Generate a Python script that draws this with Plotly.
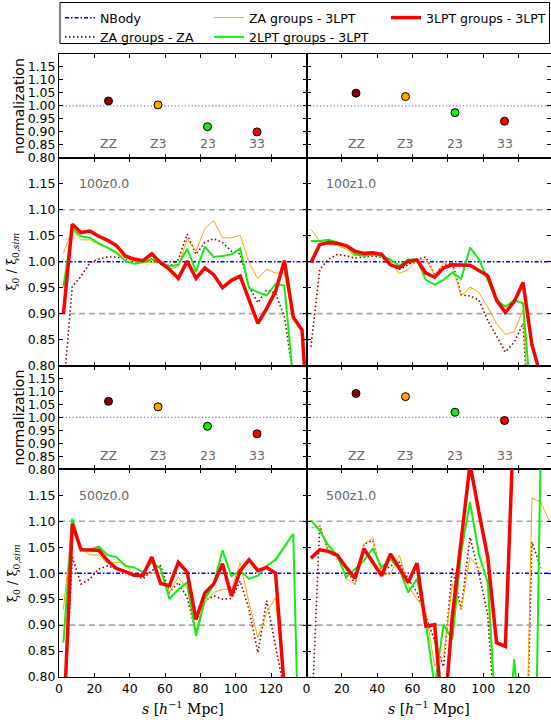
import plotly.graph_objects as go
from plotly.subplots import make_subplots

# ---------------- data ----------------
S = [2.5, 7.5, 12.5, 17.5, 22.5, 27.5, 32.5, 37.5, 42.5, 47.5, 52.5, 57.5, 62.5, 67.5,
     72.5, 77.5, 82.5, 87.5, 92.5, 97.5, 102.5, 107.5, 112.5, 117.5, 122.5, 127.5,
     132.5, 137.5, 142.5]

NBODY_S = [0.0, 140.0]
NBODY_RATIO = [1.0, 1.0]

# 100z0.0
ZAZA_100Z0 = [0.75, 0.952, 0.972, 0.998, 1.005, 1.009, 1.009, 1.006, 1.003, 0.999, 1.004, 0.996, 0.990, 1.004,
              1.053, 1.014, 1.037, 1.044, 1.037, 1.020, 1.015, 0.952, 0.921, 0.946, 0.939, 0.894, 0.78, 0.6, None]
ZA3_100Z0 = [1.016, 1.062, 1.042, 1.042, 1.033, 1.027, 1.020, 1.007, 1.001, 0.998, 0.998, 1.001, 0.986, 0.990,
             1.044, 1.020, 1.064, 1.079, 1.046, 1.046, 1.051, 0.998, 0.967, 0.986, 0.978, 0.978, 0.89, 0.87, 0.6]
L23_100Z0 = [0.952, 1.064, 1.049, 1.046, 1.035, 1.027, 1.017, 1.002, 0.996, 0.999, 1.005, 0.999, 0.991, 0.994,
             1.025, 0.981, 1.029, 1.009, 1.011, 1.014, 1.025, 0.949, 0.941, 0.935, 0.957, 0.954, 0.77, 0.5, None]
L33_100Z0 = [0.899, 1.072, 1.056, 1.059, 1.049, 1.041, 1.031, 1.011, 1.005, 1.002, 1.015, 0.998, 0.985, 0.968,
             1.001, 0.968, 0.988, 0.975, 0.950, 0.964, 0.972, 0.926, 0.881, 0.910, 0.943, 1.002, 0.893, 0.868, 0.6]

# 100z1.0
ZAZA_100Z1 = [0.836, 0.985, 1.005, 1.014, 1.011, 1.007, 1.009, 1.011, 1.009, 0.992, 0.985, 0.994, 1.005, 1.009,
              0.975, 0.992, 0.998, 0.936, 0.934, 0.926, 0.887, 0.855, 0.826, 0.845, 0.881, 0.6, None, None, None]
ZA3_100Z1 = [1.062, 1.040, 1.033, 1.031, 1.024, 1.011, 1.014, 1.017, 1.011, 1.001, 0.977, 0.985, 1.004, 1.004,
             0.975, 0.998, 0.991, 0.934, 0.951, 0.941, 0.913, 0.881, 0.860, 0.865, 0.907, 0.6, None, None, None]
L23_100Z1 = [1.040, 1.040, 1.042, 1.037, 1.029, 1.014, 1.011, 1.014, 1.011, 1.004, 0.992, 1.004, 1.004, 0.965,
             0.956, 0.965, 0.979, 0.967, 1.027, 1.005, 0.965, 0.926, 0.913, 0.926, 0.920, 0.71, 0.5, None, None]
L33_100Z1 = [0.998, 1.033, 1.037, 1.035, 1.031, 1.020, 1.016, 1.017, 1.014, 0.994, 0.988, 1.001, 1.003, 0.978,
             0.970, 0.988, 0.994, 0.993, 0.993, 0.983, 0.973, 0.926, 0.902, 0.923, 0.960, 0.84, 0.78, 0.6, None]

# 500z0.0
ZAZA_500Z0 = [0.70, 1.031, 0.979, 0.989, 1.008, 1.014, 1.008, 1.002, 0.998, 0.989, 1.005, 1.014, 0.963, 0.982,
              0.953, 0.885, 0.947, 0.956, 0.950, 0.951, 0.985, 0.930, 0.847, 0.947, 0.859, 0.773, 0.6, None, None]
ZA3_500Z0 = [0.930, 1.095, 1.047, 1.035, 1.035, 1.018, 1.021, 1.018, 0.996, 0.995, 1.000, 1.000, 0.963, 0.992,
             0.971, 0.889, 0.943, 0.963, 0.969, 0.969, 1.020, 0.943, 0.876, 0.924, 0.953, 0.77, 0.6, None, None]
L23_500Z0 = [0.866, 1.105, 1.047, 1.045, 1.051, 1.035, 1.031, 1.014, 1.011, 1.002, 1.021, 1.009, 0.950, 0.969,
             0.982, 0.879, 0.950, 0.979, 1.044, 0.994, 1.005, 0.989, 0.995, 1.014, 1.026, 1.052, 1.076, 0.4, None]
L33_500Z0 = [0.70, 1.095, 1.045, 1.045, 1.044, 1.024, 1.009, 1.003, 0.996, 0.996, 1.031, 0.980, 0.976, 1.021,
             1.002, 0.911, 0.962, 0.979, 1.018, 0.956, 1.005, 1.026, 1.005, 1.011, 1.000, 0.775, 0.6, None, None]

# 500z1.0
ZAZA_500Z1 = [0.69, 1.092, 1.040, 1.037, 1.008, 0.979, 1.056, 1.063, 1.002, 1.014, 1.021, 0.989, 0.963, 0.918,
              0.870, 0.820, 1.011, 0.930, 1.069, 1.000, 0.920, 0.67, 0.5, 0.45, 0.376, 1.060, 1.011, None, None]
ZA3_500Z1 = [1.087, 1.091, 1.040, 1.031, 0.989, 0.979, 1.056, 1.068, 0.998, 0.998, 1.035, 0.976, 0.950, 0.924,
             0.821, 0.840, 0.979, 0.930, 1.031, 1.009, 1.026, 0.673, 0.5, 0.4, 0.36, 1.145, 1.137, 1.10, None]
L23_500Z1 = [1.102, 1.082, 1.053, 1.034, 0.992, 1.008, 1.024, 1.047, 1.011, 1.027, 1.008, 0.963, 0.989, 0.905,
             0.78, 0.901, 0.872, 1.040, 1.137, 1.037, 0.982, 0.698, 0.63, 0.834, 0.63, 0.2, 1.25, 1.5, None]
L33_500Z1 = [1.029, 1.045, 1.042, 1.034, 1.011, 0.990, 1.047, 1.021, 0.995, 1.037, 1.008, 0.982, 1.019, 0.898,
             0.901, 0.70, 0.917, 1.057, 1.21, 1.118, 1.031, 0.866, 0.859, 1.32, 1.45, None, None, None, None]

# normalizations (ZZ, Z3, 23, 33)
NORM_POS = [28, 56, 84, 112]
NORM_LABELS = ["ZZ", "Z3", "23", "33"]
NORM_100Z0 = [1.019, 1.004, 0.920, 0.900]
NORM_100Z1 = [1.049, 1.036, 0.974, 0.941]
NORM_500Z0 = [1.062, 1.041, 0.966, 0.937]
NORM_500Z1 = [1.092, 1.080, 1.020, 0.988]

PANEL_NAMES = ["100z0.0", "100z1.0", "500z0.0", "500z1.0"]
YTICKS = [0.80, 0.85, 0.90, 0.95, 1.00, 1.05, 1.10, 1.15]
XTICKS = [0, 20, 40, 60, 80, 100, 120]

# ---------------- styling ----------------
C_ZAZA = "#8b0000"
C_ZA3 = "#ffa500"
C_23 = "#11ee11"
C_33 = "#ff0000"
C_NB = "#0000ff"
NORM_COLORS = [C_ZAZA, C_ZA3, C_23, C_33]
FONT = "DejaVu Sans"

W, H = 551, 720
ML, MR, MT, MB = 59, 0, 54, 43
PW = W - ML - MR
PH = H - MT - MB

fig = make_subplots(rows=4, cols=2, row_heights=[1, 2, 1, 2],
                    horizontal_spacing=0, vertical_spacing=0)

main_sets = {
    (2, 1): (ZAZA_100Z0, ZA3_100Z0, L23_100Z0, L33_100Z0),
    (2, 2): (ZAZA_100Z1, ZA3_100Z1, L23_100Z1, L33_100Z1),
    (4, 1): (ZAZA_500Z0, ZA3_500Z0, L23_500Z0, L33_500Z0),
    (4, 2): (ZAZA_500Z1, ZA3_500Z1, L23_500Z1, L33_500Z1),
}
norm_sets = {(1, 1): NORM_100Z0, (1, 2): NORM_100Z1, (3, 1): NORM_500Z0, (3, 2): NORM_500Z1}

first = True
for (r, c), (zaza, za3, l23, l33) in main_sets.items():
    fig.add_trace(go.Scatter(x=NBODY_S, y=NBODY_RATIO, mode="lines", name="NBody",
                             line=dict(color=C_NB, width=1.5, dash="4px,2px,1.5px,2px"),
                             showlegend=first, legend="legend"), row=r, col=c)
    fig.add_trace(go.Scatter(x=S, y=zaza, mode="lines", name="ZA groups - ZA",
                             line=dict(color=C_ZAZA, width=1.6, dash="1.5px,2.5px"),
                             showlegend=first, legend="legend"), row=r, col=c)
    fig.add_trace(go.Scatter(x=S, y=za3, mode="lines", name="ZA groups - 3LPT",
                             line=dict(color=C_ZA3, width=1),
                             showlegend=first, legend="legend2"), row=r, col=c)
    fig.add_trace(go.Scatter(x=S, y=l23, mode="lines", name="2LPT groups - 3LPT",
                             line=dict(color=C_23, width=2),
                             showlegend=first, legend="legend2"), row=r, col=c)
    fig.add_trace(go.Scatter(x=S, y=l33, mode="lines", name="3LPT groups - 3LPT",
                             line=dict(color=C_33, width=3.5),
                             showlegend=first, legend="legend3"), row=r, col=c)
    first = False

for (r, c), vals in norm_sets.items():
    fig.add_trace(go.Scatter(x=NORM_POS, y=vals, mode="markers", showlegend=False,
                             marker=dict(color=NORM_COLORS, size=8,
                                         line=dict(color="black", width=1)),
                             cliponaxis=False), row=r, col=c)

# ---------------- axes ----------------
LEFT_W = 247.5
dom_left = [0, LEFT_W / PW]
dom_right = [LEFT_W / PW, 1]
right_range = [0, (PW - LEFT_W) / (LEFT_W / 140.0)]
unit = PH / 6.0
row_dom = {
    1: [5 * unit / PH, 1.0],
    2: [3 * unit / PH, 5 * unit / PH],
    3: [2 * unit / PH, 3 * unit / PH],
    4: [0.0, 2 * unit / PH],
}

for r in range(1, 5):
    for c in (1, 2):
        fig.update_xaxes(row=r, col=c, domain=dom_left if c == 1 else dom_right,
                         range=[0, 140] if c == 1 else right_range,
                         tickvals=XTICKS, ticks="inside", ticklen=4, tickcolor="black",
                         showline=True, linecolor="black", linewidth=1, mirror="allticks",
                         showgrid=False, zeroline=False,
                         showticklabels=(r == 4),
                         tickfont=dict(family=FONT, size=12.5, color="black"))
        fig.update_yaxes(row=r, col=c, domain=row_dom[r], range=[0.8, 1.2],
                         tickvals=YTICKS, ticktext=["%.2f" % v for v in YTICKS],
                         ticks="inside", ticklen=4, tickcolor="black",
                         showline=True, linecolor="black", linewidth=1, mirror="allticks",
                         showgrid=False, zeroline=False,
                         showticklabels=(c == 1),
                         tickfont=dict(family=FONT, size=12.5, color="black"))

# ---------------- reference lines ----------------
shapes = []
axis_ids = {}
idx = 1
for r in range(1, 5):
    for c in (1, 2):
        axis_ids[(r, c)] = ("x" if idx == 1 else "x%d" % idx, "y" if idx == 1 else "y%d" % idx)
        idx += 1

for (r, c), (xa, ya) in axis_ids.items():
    if r in (2, 4):
        for yv in (1.10, 0.90):
            shapes.append(dict(type="line", xref=xa + " domain", yref=ya, x0=0, x1=1, y0=yv, y1=yv,
                               line=dict(color="#a8a8a8", width=1.6, dash="6px,4px"), layer="below"))
    else:
        shapes.append(dict(type="line", xref=xa + " domain", yref=ya, x0=0, x1=1, y0=1.0, y1=1.0,
                           line=dict(color="rgba(0,0,255,0.55)", width=1.2, dash="1.2px,2.2px"),
                           layer="below"))

# legend frame
shapes.append(dict(type="rect", xref="paper", yref="paper",
                   x0=(60 - ML) / PW, x1=(549.5 - ML) / PW,
                   y0=1 + (MT - 43.5) / PH, y1=1 + (MT - 2.5) / PH,
                   line=dict(color="black", width=1), fillcolor="rgba(0,0,0,0)"))

# ---------------- annotations ----------------
ann = []
panel_pos = {(2, 1): 0, (2, 2): 1, (4, 1): 2, (4, 2): 3}
for (r, c), k in panel_pos.items():
    xa, ya = axis_ids[(r, c)]
    ann.append(dict(x=10, y=1.15, xref=xa, yref=ya, text=PANEL_NAMES[k], showarrow=False,
                    xanchor="left", yanchor="middle", font=dict(family=FONT, size=12.5, color="#666666")))
for (r, c) in norm_sets:
    xa, ya = axis_ids[(r, c)]
    for xv, lab in zip(NORM_POS, NORM_LABELS):
        ann.append(dict(x=xv, y=0.855, xref=xa, yref=ya, text=lab, showarrow=False,
                        xanchor="center", yanchor="middle",
                        font=dict(family=FONT, size=12.5, color="#666666")))

# y labels
for r in (1, 3):
    d = row_dom[r]
    ann.append(dict(x=0, xref="paper", xshift=19 - ML, y=(d[0] + d[1]) / 2, yref="paper",
                    text="normalization", textangle=-90, showarrow=False,
                    xanchor="center", yanchor="middle",
                    font=dict(family=FONT, size=14, color="black")))
for r in (2, 4):
    d = row_dom[r]
    ann.append(dict(x=0, xref="paper", xshift=13 - ML, y=(d[0] + d[1]) / 2, yref="paper",
                    text="ξ<sub>0</sub> / ξ<sub>0,<i>sim</i></sub>", textangle=-90, showarrow=False,
                    xanchor="center", yanchor="middle",
                    font=dict(family="DejaVu Serif", size=13, color="black")))
# x labels
for c, d in ((1, dom_left), (2, dom_right)):
    ann.append(dict(x=(d[0] + d[1]) / 2, xref="paper", y=-(708 - (H - MB)) / PH, yref="paper",
                    text="<i>s</i> [<i>h</i><sup>−1</sup> Mpc]", showarrow=False,
                    xanchor="center", yanchor="middle",
                    font=dict(family="DejaVu Serif", size=14, color="black")))

leg_common = dict(xanchor="left", yanchor="top", bgcolor="rgba(0,0,0,0)", borderwidth=0,
                  orientation="v", traceorder="normal", itemwidth=30,
                  font=dict(family=FONT, size=12.5, color="black"))
leg_y = 1 + (MT - 3) / PH

fig.update_layout(
    width=W, height=H,
    margin=dict(l=ML, r=MR, t=MT, b=MB),
    paper_bgcolor="white", plot_bgcolor="white",
    font=dict(family=FONT, size=12.5, color="black"),
    shapes=shapes, annotations=ann,
    legend=dict(x=(60 - ML) / PW, y=leg_y, **leg_common),
    legend2=dict(x=(209 - ML) / PW, y=leg_y, **leg_common),
    legend3=dict(x=(386 - ML) / PW, y=leg_y, **leg_common),
)

fig.write_html("out.html", config={"displayModeBar": False},
               post_script="document.body.style.margin='0';document.body.style.overflow='hidden';")
